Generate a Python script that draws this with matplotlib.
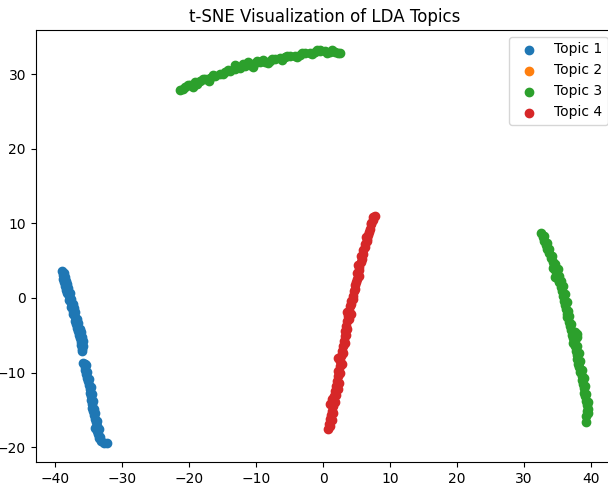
import numpy as np
import matplotlib
matplotlib.use('Agg')
import matplotlib.pyplot as plt

# 2-D t-SNE coordinates of the documents, grouped by dominant topic
topic1_pts = [(-39.0, 3.6), (-38.9, 3.1), (-38.8, 2.6), (-38.4, 2.3), (-38.7, 2.1), (-38.5, 1.6),
              (-38.4, 1.1), (-38.2, 0.7), (-38.0, 0.2), (-37.9, -0.3), (-37.7, -0.7), (-37.6, -1.2),
              (-37.2, -1.4), (-37.4, -1.7), (-37.3, -2.1), (-37.1, -2.6), (-37.0, -3.1), (-36.9, -3.5),
              (-36.7, -4.0), (-36.6, -4.4), (-36.2, -4.5), (-36.4, -4.9), (-36.3, -5.4), (-36.2, -5.9),
              (-36.1, -6.3), (-36.0, -6.8), (-36.0, -7.1),
              (-38.7, 3.3), (-38.5, 2.8), (-38.2, 1.9), (-38.1, 1.3), (-37.8, 0.6), (-37.6, -0.1),
              (-37.3, -0.8), (-37.0, -1.9), (-36.8, -2.8), (-36.6, -3.4), (-36.3, -4.1), (-36.0, -5.2),
              (-35.9, -5.8), (-35.8, -6.5),
              (-35.8, -8.7), (-35.4, -9.0), (-35.6, -9.2), (-35.5, -9.7), (-35.4, -10.2), (-35.2, -10.7),
              (-35.1, -11.2), (-34.9, -11.7), (-34.8, -12.2), (-34.8, -12.7), (-34.7, -13.2),
              (-34.6, -13.7), (-34.5, -14.2), (-34.5, -14.7), (-34.2, -14.9), (-34.4, -15.2),
              (-34.2, -15.7), (-34.0, -16.2), (-33.9, -16.7), (-33.8, -17.2), (-34.0, -17.4),
              (-33.7, -17.8), (-33.6, -18.3), (-33.5, -18.8), (-33.2, -19.2), (-32.8, -19.4), (-32.3, -19.4),
              (-35.5, -8.8), (-35.2, -9.9), (-35.0, -10.9), (-34.6, -11.9), (-34.5, -12.9),
              (-34.3, -13.8), (-34.1, -15.4), (-33.7, -16.5), (-33.5, -17.6), (-33.3, -18.6)]

topic2_pts = []

topic3_pts = [(-21.4, 27.9), (-20.6, 28.3), (-19.9, 28.6), (-19.5, 28.3), (-19.1, 28.9), (-18.4, 29.1),
              (-17.6, 29.3), (-17.0, 29.1), (-16.9, 29.5), (-16.1, 29.8), (-15.4, 30.0), (-14.6, 30.3),
              (-13.9, 30.5), (-13.2, 30.7), (-13.2, 31.3), (-12.4, 30.8), (-11.7, 31.1), (-11.2, 31.6),
              (-10.9, 31.3), (-10.2, 31.5), (-9.4, 31.6), (-9.0, 31.9), (-8.7, 31.7), (-7.9, 31.8),
              (-7.2, 32.0), (-6.5, 32.2), (-5.7, 32.3), (-5.0, 32.4), (-4.2, 32.5), (-3.5, 32.6),
              (-2.7, 32.8), (-2.0, 32.9), (-1.2, 33.0), (-0.5, 33.1), (-0.5, 33.3), (0.3, 33.1),
              (1.0, 33.0), (1.8, 33.0), (2.5, 32.9),
              (-21.0, 28.0), (-20.2, 28.6), (-18.8, 28.7), (-18.0, 29.4), (-16.5, 29.9), (-15.0, 30.0),
              (-14.2, 30.6), (-12.8, 31.0), (-11.9, 31.4), (-10.5, 31.0), (-9.8, 31.8), (-8.3, 31.5),
              (-7.6, 32.1), (-6.1, 31.9), (-5.4, 32.5), (-3.9, 32.3), (-3.1, 32.8), (-1.6, 32.7),
              (-0.9, 33.2), (0.6, 32.9), (1.4, 33.2), (2.2, 32.8),
              (32.6, 8.7), (32.8, 8.2), (33.0, 7.6), (33.3, 7.1), (33.5, 6.5), (33.8, 6.0), (34.0, 5.4),
              (34.3, 4.8), (34.5, 4.3), (34.3, 4.0), (34.7, 3.7), (34.9, 3.2), (35.2, 3.0), (34.6, 2.8),
              (35.1, 2.6), (35.3, 2.1), (35.5, 1.5), (35.7, 0.9), (35.9, 0.3), (36.0, -0.4),
              (36.1, -1.0), (36.3, -1.5), (36.4, -2.1), (36.5, -2.6), (36.7, -3.2), (36.9, -3.8),
              (37.0, -4.3), (38.0, -4.8), (37.2, -4.9), (37.9, -5.3), (37.3, -5.4), (37.4, -6.0),
              (37.6, -6.5), (37.8, -7.1), (37.9, -7.7), (38.0, -8.2), (38.1, -8.8), (38.3, -9.3),
              (38.4, -9.9), (38.6, -10.4), (38.6, -11.0), (38.8, -11.6), (38.9, -12.1), (39.0, -12.7),
              (39.1, -13.2), (39.3, -13.8), (39.4, -14.4), (39.6, -14.9), (39.4, -15.1), (39.3, -15.8),
              (39.3, -16.7),
              (33.0, 8.3), (33.4, 7.4), (33.8, 6.6), (34.2, 5.6), (34.7, 4.5), (35.1, 3.9), (35.5, 2.3),
              (35.8, 1.6), (36.1, 0.5), (36.4, -0.6), (36.6, -1.8), (36.8, -2.4), (37.1, -3.5),
              (37.6, -4.5), (37.7, -5.7), (37.9, -6.4), (38.2, -7.4), (38.4, -8.5), (38.7, -9.6),
              (38.9, -10.7), (39.1, -11.8), (39.3, -12.9), (39.5, -13.9), (39.6, -15.4)]

topic4_pts = [(7.7, 11.0), (7.5, 10.5), (7.2, 9.9), (7.0, 9.2), (6.7, 8.5), (6.5, 7.9), (6.6, 7.6),
              (6.2, 7.2), (6.0, 6.4), (5.7, 5.6), (5.6, 4.8), (5.4, 4.1), (5.3, 3.8), (5.1, 3.3),
              (5.0, 2.5), (4.8, 1.7), (4.6, 0.9), (4.4, 0.3), (4.2, -0.4), (4.0, -1.1), (3.9, -1.7),
              (3.5, -1.9), (3.7, -2.4), (3.6, -3.1), (3.4, -3.8), (3.3, -4.4), (3.2, -5.1), (3.1, -5.8),
              (3.0, -6.4), (2.8, -7.1), (2.7, -7.8), (2.3, -8.0), (2.6, -8.4), (2.5, -9.1), (2.3, -9.8),
              (2.2, -10.4), (2.1, -11.1), (2.0, -11.8), (1.8, -12.5), (1.7, -13.1), (1.4, -13.5),
              (1.6, -13.8), (1.1, -14.2), (1.5, -14.5), (1.3, -15.1), (1.2, -15.7), (1.1, -16.2),
              (0.9, -16.9), (0.8, -17.6),
              (7.4, 10.8), (7.1, 10.1), (6.9, 8.8), (6.4, 8.2), (6.3, 6.8), (5.9, 5.9), (5.8, 5.2),
              (5.2, 4.4), (5.3, 2.9), (4.9, 2.1), (4.7, 1.2), (4.5, -0.1), (4.1, -0.8), (4.1, -2.2),
              (3.8, -2.8), (3.5, -4.1), (3.4, -4.9), (3.2, -6.1), (3.0, -7.4), (2.8, -8.8),
              (2.6, -10.0), (2.4, -11.4), (2.2, -12.2), (1.9, -13.0), (1.8, -14.0), (1.5, -15.4),
              (1.4, -16.4), (1.0, -17.2)]

topic_labels = ['Topic 1', 'Topic 2', 'Topic 3', 'Topic 4']
topic_pts = [topic1_pts, topic2_pts, topic3_pts, topic4_pts]

fig = plt.figure(figsize=(6.08, 4.86), dpi=100)
ax = fig.add_axes([0.0587, 0.0488, 0.952, 0.8895])
for label, pts in zip(topic_labels, topic_pts):
    xy = np.array(pts, dtype=float).reshape(-1, 2)
    ax.scatter(xy[:, 0], xy[:, 1], label=label)
ax.set_title('t-SNE Visualization of LDA Topics')
ax.legend(loc='upper right')
fig.savefig('out.png', dpi=100)
